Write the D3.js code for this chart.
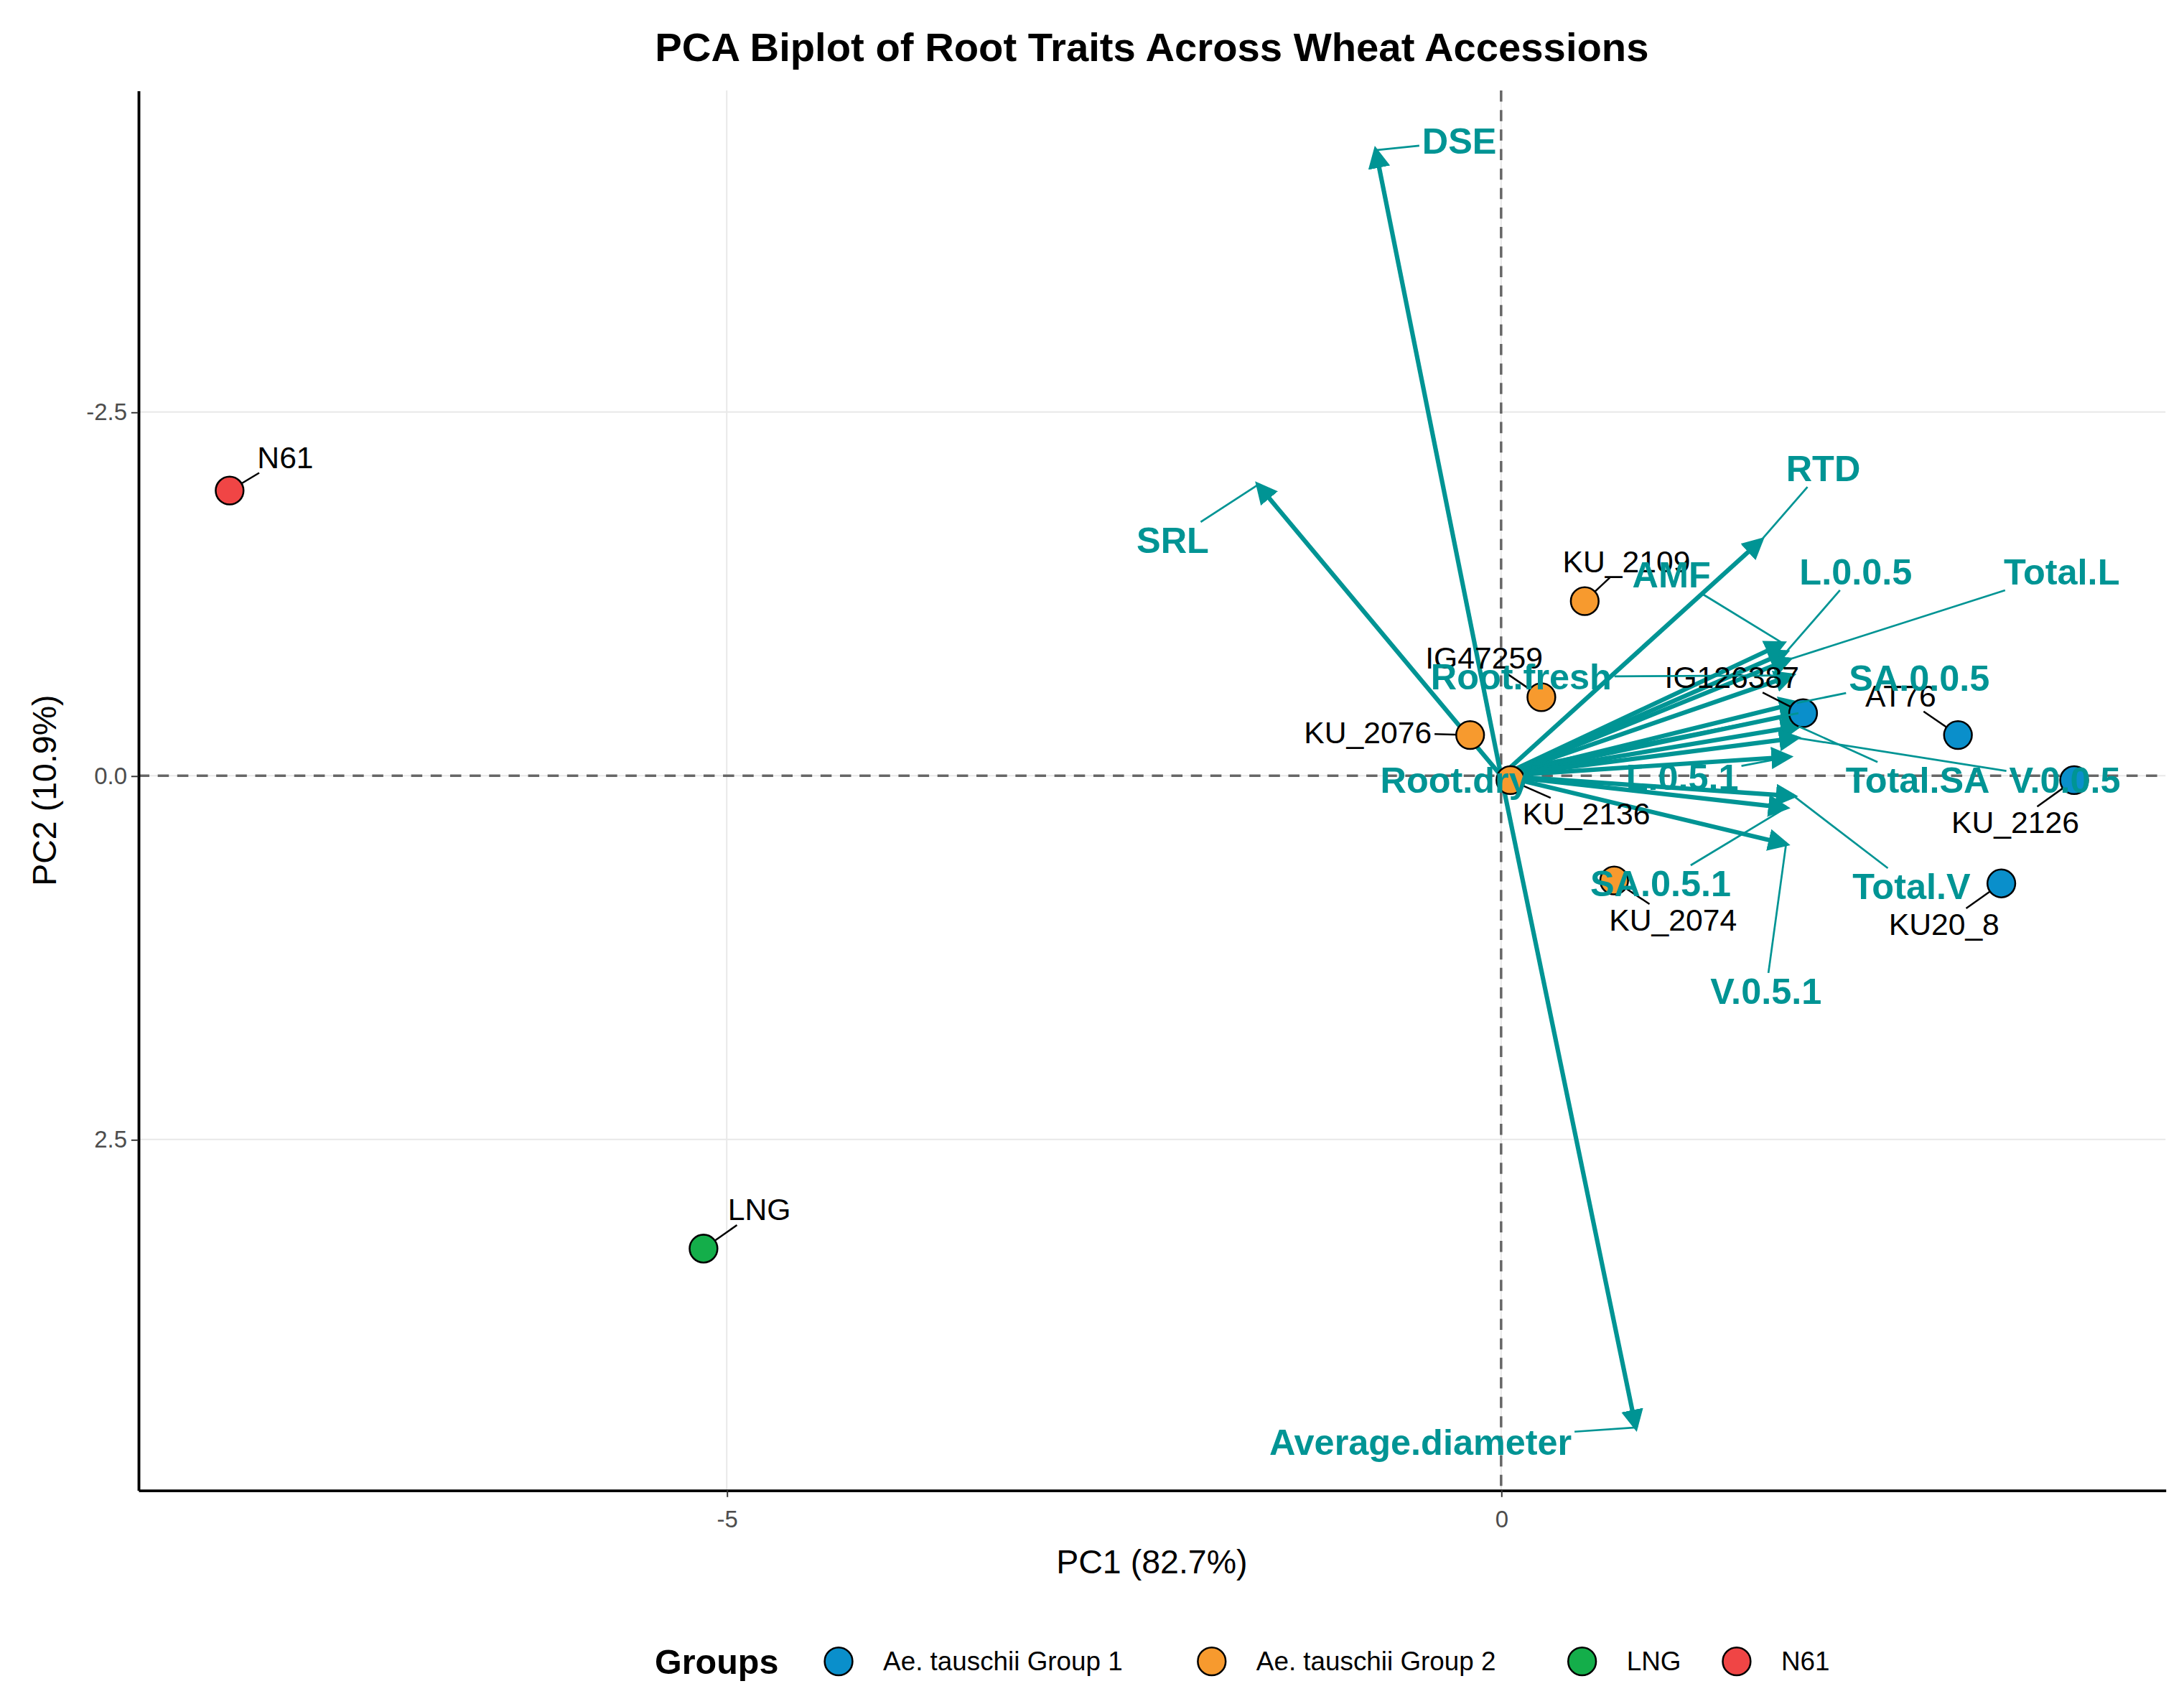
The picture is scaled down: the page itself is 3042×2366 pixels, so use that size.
<!DOCTYPE html>
<html><head><meta charset="utf-8">
<script src="https://cdn.jsdelivr.net/npm/d3@7.9.0/dist/d3.min.js"></script>
<style>body{margin:0;background:#fff}svg{display:block;font-family:"Liberation Sans",Arial,sans-serif}</style>
</head><body><svg id="chart"></svg>
<script>
// accessions: PC1, PC2 scores, group, label position
const samples = ['N61','LNG','KU_2109','IG47259','KU_2076','KU_2136','KU_2074','IG126387','AT76','KU_2126','KU20_8'];
const pc1 = [-8.21,-5.15,0.54,0.26,-0.20,0.06,0.73,1.95,2.95,3.70,3.23];
const pc2 = [-1.96,3.25,-1.20,-0.54,-0.28,0.03,0.72,-0.43,-0.28,0.03,0.74];
const groupOf = ['N61','LNG','Ae. tauschii Group 2','Ae. tauschii Group 2','Ae. tauschii Group 2','Ae. tauschii Group 2','Ae. tauschii Group 2','Ae. tauschii Group 1','Ae. tauschii Group 1','Ae. tauschii Group 1','Ae. tauschii Group 1'];
const sampleLabX = [-7.85,-4.79,0.81,-0.11,-0.86,0.55,1.11,1.49,2.58,3.32,2.86];
const sampleLabY = [-2.19,2.98,-1.47,-0.81,-0.30,0.26,0.99,-0.68,-0.55,0.32,1.02];

// trait loadings (scaled) and label positions
const traits = ['DSE','SRL','RTD','Average.diameter','AMF','L.0.0.5','Total.L','Root.fresh','SA.0.0.5','Root.dry','Total.SA','V.0.0.5','L.0.5.1','Total.V','SA.0.5.1','V.0.5.1'];
const load1 = [-0.81,-1.57,1.68,0.87,1.82,1.84,1.86,1.88,1.91,1.92,1.92,1.91,1.86,1.89,1.84,1.84];
const load2 = [-4.30,-2.00,-1.62,4.48,-0.91,-0.85,-0.80,-0.69,-0.50,-0.43,-0.34,-0.26,-0.13,0.14,0.22,0.47];
const traitLabX = [-0.27,-2.12,2.08,-0.52,1.10,2.29,3.62,0.13,2.70,-0.30,2.69,3.64,1.17,2.65,1.03,1.71];
const traitLabY = [-4.36,-1.62,-2.11,4.58,-1.38,-1.40,-1.40,-0.68,-0.67,0.03,0.03,0.03,0.01,0.76,0.74,1.48];

const groups = ['Ae. tauschii Group 1','Ae. tauschii Group 2','LNG','N61'];
const groupColors = ['#0A8FCB','#F79A2E','#14AE4A','#F04545'];
const xTicks = [-5, 0];
const yTicks = [-2.5, 0, 2.5];

const W = 1568, H = 1220;
const svg = d3.select('#chart').attr('width',3042).attr('height',2366).attr('viewBox',[0,0,W,H]);
const m = {l:99, r:1555, t:65, b:1070};
const x = d3.scaleLinear().domain([-8.80,4.29]).range([m.l,m.r]);
const y = d3.scaleLinear().domain([-4.71,4.91]).range([m.t,m.b]);
const color = d3.scaleOrdinal().domain(groups).range(groupColors);
const teal = '#009494';
const hy = s => s.replace('\u2212','-');

// grid
svg.append('g').selectAll('line').data(xTicks).join('line')
  .attr('x1',d=>x(d)).attr('x2',d=>x(d)).attr('y1',m.t).attr('y2',m.b).attr('stroke','#e8e8e8');
svg.append('g').selectAll('line').data(yTicks).join('line')
  .attr('y1',d=>y(d)).attr('y2',d=>y(d)).attr('x1',m.l).attr('x2',m.r).attr('stroke','#e8e8e8');

// zero lines
svg.append('line').attr('x1',x(0)).attr('x2',x(0)).attr('y1',m.t).attr('y2',m.b)
  .attr('stroke','#666').attr('stroke-width',1.8).attr('stroke-dasharray','8,6');
svg.append('line').attr('y1',y(0)).attr('y2',y(0)).attr('x1',m.l).attr('x2',m.r)
  .attr('stroke','#666').attr('stroke-width',1.8).attr('stroke-dasharray','8,6');

// axes
const xAxis = svg.append('g').attr('transform',`translate(0,${m.b})`)
  .call(d3.axisBottom(x).tickValues(xTicks).tickFormat(d=>hy(d3.format('d')(d))).tickSize(5).tickSizeOuter(0));
const yAxis = svg.append('g').attr('transform',`translate(${m.l},0)`)
  .call(d3.axisLeft(y).tickValues(yTicks).tickFormat(d=>hy(d3.format('.1f')(d))).tickSize(5).tickSizeOuter(0));
[xAxis,yAxis].forEach(a=>{
  a.select('.domain').attr('stroke','#000').attr('stroke-width',2);
  a.selectAll('.tick line').attr('stroke','#333');
  a.selectAll('.tick text').attr('font-size',17).attr('fill','#4d4d4d').attr('font-family','Liberation Sans');
});
xAxis.selectAll('.tick text').attr('dy','1.1em');

// arrows
svg.append('defs').append('marker').attr('id','ah').attr('viewBox','0 0 10 10')
  .attr('refX',8).attr('refY',5).attr('markerWidth',5).attr('markerHeight',5).attr('orient','auto')
  .append('path').attr('d','M0,0L10,5L0,10z').attr('fill',teal);

function seg(g, lx, ly, tx, ty, bw, bh, col, sw){
  // line from label box edge to target
  const dx = tx-lx, dy = ty-ly;
  const t = Math.min(Math.abs(dx)>0? (bw/2+2)/Math.abs(dx):Infinity, Math.abs(dy)>0?(bh/2+2)/Math.abs(dy):Infinity);
  if (t >= 1) return;
  const sx = lx+dx*t, sy = ly+dy*t;
  if (Math.hypot(tx-sx,ty-sy) < 8) return;
  g.append('line').attr('x1',sx).attr('y1',sy).attr('x2',tx).attr('y2',ty).attr('stroke',col).attr('stroke-width',sw);
}

const ag = svg.append('g');
traits.forEach((t,i)=>{
  ag.append('line').attr('x1',x(0)).attr('y1',y(0)).attr('x2',x(load1[i])).attr('y2',y(load2[i]))
    .attr('stroke',teal).attr('stroke-width',3.2).attr('marker-end','url(#ah)');
});

// sample points
const pg = svg.append('g');
samples.forEach((s,i)=>{
  const lx = x(sampleLabX[i]), ly = y(sampleLabY[i]);
  const txt = pg.append('text').attr('x',lx).attr('y',ly).attr('text-anchor','middle').attr('dominant-baseline','central')
    .attr('font-size',22).attr('fill','#000').text(s);
  const bb = txt.node().getBBox();
  seg(pg, lx, ly, x(pc1[i]), y(pc2[i]), bb.width, bb.height*0.75, '#000', 1.3);
});
pg.selectAll('circle').data(samples).join('circle')
  .attr('cx',(d,i)=>x(pc1[i])).attr('cy',(d,i)=>y(pc2[i])).attr('r',10)
  .attr('fill',(d,i)=>color(groupOf[i])).attr('stroke','#000').attr('stroke-width',1.3);

// trait labels
const lg = svg.append('g');
traits.forEach((t,i)=>{
  const lx = x(traitLabX[i]), ly = y(traitLabY[i]);
  const txt = lg.append('text').attr('x',lx).attr('y',ly).attr('text-anchor','middle').attr('dominant-baseline','central')
    .attr('font-size',26).attr('font-weight','bold').attr('fill',teal).text(t);
  const bb = txt.node().getBBox();
  seg(lg, lx, ly, x(load1[i]), y(load2[i]), bb.width, bb.height*0.75, teal, 1.4);
});

// titles
svg.append('text').attr('x',827).attr('y',44).attr('text-anchor','middle').attr('font-size',29).attr('font-weight','bold')
  .text('PCA Biplot of Root Traits Across Wheat Accessions');
svg.append('text').attr('x',(m.l+m.r)/2).attr('y',1130).attr('text-anchor','middle').attr('font-size',24).text('PC1 (82.7%)');
svg.append('text').attr('transform',`translate(40,${(m.t+m.b)/2}) rotate(-90)`).attr('text-anchor','middle').attr('font-size',24).text('PC2 (10.9%)');

// legend
const leg = svg.append('g').attr('transform','translate(0,1193)');
leg.append('text').attr('x',470).attr('y',0).attr('dominant-baseline','central').attr('font-size',25).attr('font-weight','bold').text('Groups');
const legX = [602,870,1136,1247];
groups.forEach((g,i)=>{
  leg.append('circle').attr('cx',legX[i]).attr('cy',0).attr('r',10).attr('fill',color(g)).attr('stroke','#000').attr('stroke-width',1.3);
  leg.append('text').attr('x',legX[i]+32).attr('y',0).attr('dominant-baseline','central').attr('font-size',19).text(g);
});
</script></body></html>
